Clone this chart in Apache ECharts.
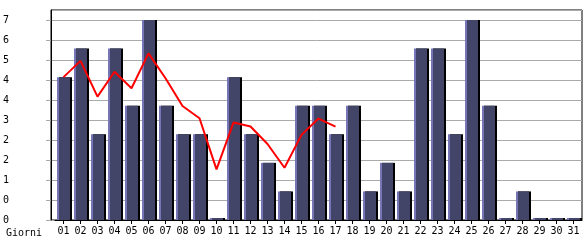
<!DOCTYPE html>
<html><head><meta charset="utf-8">
<script src="https://cdn.jsdelivr.net/npm/echarts@6/dist/echarts.min.js"></script>
<style>html,body{margin:0;padding:0;background:#fff}#c{width:585px;height:240px}</style>
</head><body><div id="c"></div>
<script>
var days = ['01','02','03','04','05','06','07','08','09','10','11','12','13','14','15','16','17','18','19','20','21','22','23','24','25','26','27','28','29','30','31'];
var visits = [5,6,3,6,4,7,4,3,3,0,5,3,2,1,4,4,3,4,1,2,1,6,6,3,7,4,0,1,0,0,0];
var trend = [5.0,5.57,4.32,5.19,4.61,5.83,4.96,3.99,3.56,1.77,3.41,3.27,2.66,1.83,2.98,3.55,3.27];
var yMax = 7, yStep = 0.7, yTop = 7.35;
var xName = 'Giorni';
var FONT = 'DejaVu Sans Mono';

var chart = echarts.init(document.getElementById('c'), null, {renderer:'canvas'});
chart.setOption({
  animation:false,
  backgroundColor:'#fff',
  title:{text:xName,left:1,top:223,textStyle:{fontFamily:FONT,fontSize:10,fontWeight:'normal',color:'#000'}},
  grid:[
    {left:50,right:3,top:10,bottom:20,show:true,borderColor:'#000',borderWidth:1,backgroundColor:'transparent'},
    {left:55,right:3,top:10,bottom:20}
  ],
  xAxis:[
    {gridIndex:0,type:'value',min:0,max:1,show:false},
    {gridIndex:1,type:'category',data:days,boundaryGap:true,
     axisLine:{show:true,lineStyle:{color:'#000',width:1}},
     axisTick:{show:true,alignWithLabel:true,length:4,lineStyle:{color:'#000'}},
     axisLabel:{margin:6,fontFamily:FONT,fontSize:10,color:'#000',interval:0}}
  ],
  yAxis:[
    {gridIndex:0,type:'value',min:0,max:yTop,interval:yStep,
     axisLine:{show:true,lineStyle:{color:'#000'}},
     axisTick:{show:true,length:5,lineStyle:{color:'#aaa'}},
     splitLine:{show:true,lineStyle:{color:'#aaa',width:1}},
     axisLabel:{align:'left',margin:48,fontFamily:FONT,fontSize:10,color:'#000',showMaxLabel:false,
       formatter:function(v){return v>yMax+0.01?'':String(Math.floor(v+1e-9));}}},
    {gridIndex:1,type:'value',min:0,max:yTop,show:false}
  ],
  series:[
    {type:'bar',xAxisIndex:1,yAxisIndex:1,data:visits,barWidth:13,barMinHeight:2,
     itemStyle:{
       color:{type:'linear',x:0,y:0,x2:1,y2:0,colorStops:[
         {offset:0,color:'#7676b6'},{offset:0.14,color:'#7676b6'},
         {offset:0.14,color:'#424468'},{offset:1,color:'#424468'}]},
       shadowColor:'#000',shadowOffsetX:2,shadowOffsetY:0,shadowBlur:0}},
    {type:'line',xAxisIndex:1,yAxisIndex:1,data:trend,symbol:'none',
     lineStyle:{color:'#ff0000',width:2},z:5}
  ]
});
</script></body></html>
